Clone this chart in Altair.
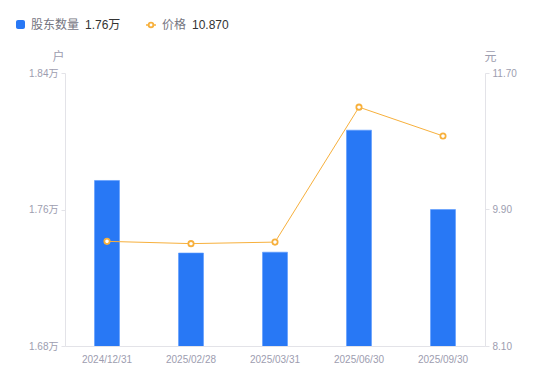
import altair as alt
import pandas as pd

dates = ["2024/12/31", "2025/02/28", "2025/03/31", "2025/06/30", "2025/09/30"]
holders = [1.777, 1.7345, 1.735, 1.8065, 1.760]   # 万户
price = [9.48, 9.45, 9.47, 11.25, 10.87]           # 元

df = pd.DataFrame({"date": dates, "holders": holders, "price": price})

FONT = "Liberation Sans, Noto Sans CJK SC, sans-serif"
BLUE = "#2878F5"
ORANGE = "#F7B03C"
LABEL = "#9d9daf"
AXIS = "#e3e3e8"

x_enc = alt.X("date:N", sort=dates, title=None,
              scale=alt.Scale(paddingInner=0, paddingOuter=0),
              axis=alt.Axis(labelAngle=0, ticks=False, labelPadding=8,
                            domainColor=AXIS, labelColor=LABEL, labelFontSize=10,
                            labelFont=FONT))

bars = alt.Chart(df).mark_bar(size=25, color=BLUE, stroke="#5b9bff", strokeWidth=0.6, clip=True).encode(
    x=x_enc,
    y=alt.Y("holders:Q",
            scale=alt.Scale(domain=[1.68, 1.84], nice=False, zero=False),
            axis=alt.Axis(orient="left", values=[1.68, 1.76, 1.84],
                          labelExpr="format(datum.value, '.2f') + '万'",
                          grid=False, domainColor=AXIS, tickColor=AXIS, tickSize=4,
                          labelColor=LABEL, labelFontSize=10, labelFont=FONT, labelPadding=3,
                          title="户", titleAngle=0, titleX=-7, titleY=-10,
                          titleAlign="center", titleBaseline="bottom",
                          titleColor=LABEL, titleFontSize=12, titleFontWeight="normal",
                          titleFont=FONT)),
)

line = alt.Chart(df).mark_line(
    color=ORANGE, strokeWidth=1,
    point=alt.OverlayMarkDef(filled=False, fill="white", stroke=ORANGE, strokeWidth=1.8, size=28, opacity=1),
).encode(
    x=alt.X("date:N", sort=dates),
    y=alt.Y("price:Q",
            scale=alt.Scale(domain=[8.10, 11.70], nice=False, zero=False),
            axis=alt.Axis(orient="right", values=[8.10, 9.90, 11.70], format=".2f",
                          grid=False, domainColor=AXIS, tickColor=AXIS, tickSize=4,
                          labelColor=LABEL, labelFontSize=10, labelFont=FONT, labelPadding=3,
                          title="元", titleAngle=0, titleX=5, titleY=-10,
                          titleAlign="center", titleBaseline="bottom",
                          titleColor=LABEL, titleFontSize=12, titleFontWeight="normal",
                          titleFont=FONT)),
)

one = pd.DataFrame({"k": [0]})
leg_sq = alt.Chart(one).mark_rect(color=BLUE, cornerRadius=2).encode(
    x=alt.value(-49), x2=alt.value(-40), y=alt.value(-53), y2=alt.value(-44))
leg_t1 = alt.Chart(one).mark_text(text="股东数量", align="left", baseline="middle",
                                  fontSize=12, font=FONT, color="#75757f").encode(
    x=alt.value(-34), y=alt.value(-48))
leg_v1 = alt.Chart(one).mark_text(text=f"{holders[-1]:.2f}万", align="left", baseline="middle",
                                  fontSize=12, font=FONT, color="#333333").encode(
    x=alt.value(20), y=alt.value(-48))
leg_ln = alt.Chart(one).mark_rule(color=ORANGE, strokeWidth=1.5).encode(
    x=alt.value(81), x2=alt.value(91), y=alt.value(-48))
leg_pt = alt.Chart(one).mark_point(filled=False, fill="white", stroke=ORANGE, strokeWidth=1.8,
                                   size=22, opacity=1).encode(x=alt.value(86), y=alt.value(-48))
leg_t2 = alt.Chart(one).mark_text(text="价格", align="left", baseline="middle",
                                  fontSize=12, font=FONT, color="#75757f").encode(
    x=alt.value(97), y=alt.value(-48))
leg_v2 = alt.Chart(one).mark_text(text=f"{price[-1]:.3f}", align="left", baseline="middle",
                                  fontSize=12, font=FONT, color="#333333").encode(
    x=alt.value(127), y=alt.value(-48))

chart = alt.layer(bars, line, leg_sq, leg_t1, leg_v1, leg_ln, leg_pt, leg_t2, leg_v2).resolve_scale(
    y="independent"
).properties(
    width=420, height=273,
    autosize=alt.AutoSizeParams(type="none"),
    padding={"left": 57, "top": 65, "right": 57, "bottom": 27},
).configure_view(stroke=None)

chart.save("out.html", embed_options={"renderer": "svg", "actions": False})
